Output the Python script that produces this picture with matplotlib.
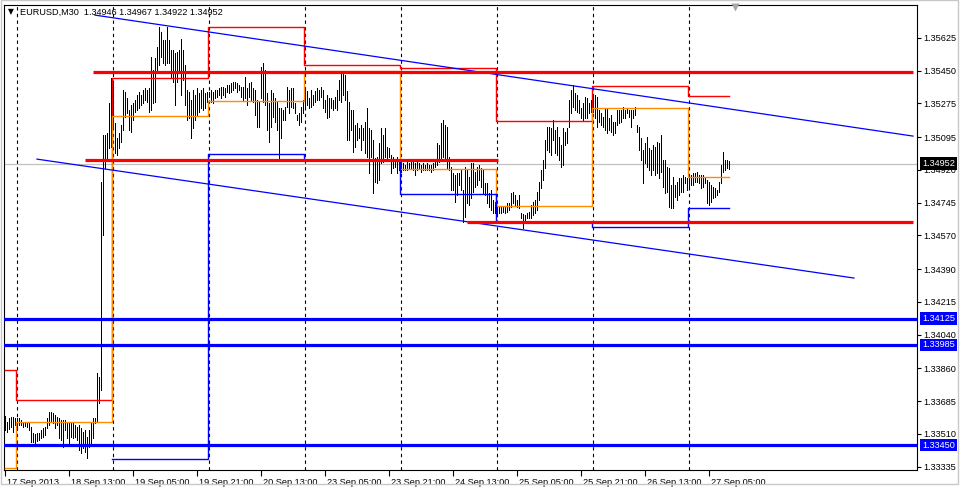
import matplotlib.pyplot as plt
import matplotlib.transforms as mtransforms
from matplotlib.patches import Rectangle
import pandas as pd

plt.rcParams['font.family'] = ['Liberation Sans', 'DejaVu Sans']

# ------------------------------------------------------------------ data
symbol = 'EURUSD,M30'
last_ohlc = ['1.34946', '1.34967', '1.34922', '1.34952']
last_price = 1.34952

# M30 bars, 17 Sep 2013 21:00 .. 27 Sep 2013 10:00 (weekend skipped)
first_bar = '2013-09-17 21:00'
last_bar = '2013-09-27 10:00'

bar_high = [
    1.33605, 1.33575, 1.33593, 1.33598, 1.33602, 1.33593, 1.33593, 1.33593, 1.33584, 1.33575,
    1.33570, 1.33566, 1.33566, 1.33548, 1.33513, 1.33507, 1.33513, 1.33516, 1.33531, 1.33540,
    1.33548, 1.33593, 1.33628, 1.33628, 1.33620, 1.33611, 1.33602, 1.33593, 1.33584, 1.33584,
    1.33584, 1.33575, 1.33575, 1.33566, 1.33566, 1.33557, 1.33548, 1.33557, 1.33540, 1.33522,
    1.33531, 1.33495, 1.33531, 1.33575, 1.33593, 1.33593, 1.33833, 1.33815, 1.34857, 1.35106,
    1.35106, 1.35115, 1.35275, 1.35408, 1.35380, 1.35168, 1.35088, 1.35115, 1.35159, 1.35346,
    1.35337, 1.35301, 1.35239, 1.35266, 1.35275, 1.35293, 1.35319, 1.35337, 1.35319, 1.35346,
    1.35355, 1.35346, 1.35355,
    1.35524, 1.35453, 1.35515, 1.35577, 1.35684, 1.35657, 1.35613, 1.35613, 1.35684, 1.35613,
    1.35559, 1.35559, 1.35542, 1.35550, 1.35559, 1.35621, 1.35559, 1.35479, 1.35346, 1.35337,
    1.35293, 1.35346, 1.35319, 1.35355, 1.35328, 1.35346, 1.35355, 1.35328, 1.35337, 1.35337,
    1.35346, 1.35337, 1.35346, 1.35346, 1.35355, 1.35364, 1.35364, 1.35355, 1.35373, 1.35373,
    1.35381, 1.35390, 1.35390, 1.35381, 1.35373, 1.35364, 1.35364, 1.35417, 1.35355, 1.35381,
    1.35390, 1.35355, 1.35346, 1.35293, 1.35284, 1.35470, 1.35488, 1.35453, 1.35328, 1.35275,
    1.35346, 1.35328, 1.35301, 1.35284, 1.35248, 1.35248, 1.35239, 1.35257, 1.35364, 1.35346,
    1.35355, 1.35355, 1.35275, 1.35212, 1.35221,
    1.35257, 1.35293, 1.35364, 1.35339, 1.35302, 1.35347, 1.35319, 1.35339, 1.35356, 1.35347,
    1.35364, 1.35347, 1.35293, 1.35319, 1.35302, 1.35302, 1.35293, 1.35310, 1.35347, 1.35399,
    1.35444, 1.35435, 1.35426, 1.35339, 1.35284, 1.35239, 1.35239, 1.35159, 1.35168, 1.35141,
    1.35159, 1.35141, 1.35177, 1.35248, 1.35141, 1.35132, 1.35079, 1.34981, 1.34990, 1.35061,
    1.35141, 1.35106, 1.35141, 1.35043, 1.35034, 1.34999, 1.34990, 1.34963, 1.34990, 1.34963,
    1.34954, 1.34954, 1.34946, 1.34963, 1.34954, 1.34963, 1.34972, 1.34954, 1.34963, 1.34954,
    1.34946, 1.34954, 1.34946, 1.34954, 1.34946, 1.34946, 1.34954, 1.34963, 1.35061, 1.35052,
    1.35168, 1.35186, 1.35159, 1.35150, 1.34990, 1.34937, 1.34901, 1.34892, 1.34901, 1.34901,
    1.34919, 1.34812, 1.34937, 1.34919, 1.34883, 1.34954, 1.34954, 1.34910, 1.34937, 1.34946,
    1.34928, 1.34919, 1.34848, 1.34848, 1.34794, 1.34812, 1.34759, 1.34750, 1.34723, 1.34723,
    1.34723, 1.34723, 1.34723, 1.34741, 1.34741, 1.34794, 1.34803, 1.34785, 1.34759, 1.34785,
    1.34687, 1.34684, 1.34679, 1.34687, 1.34696, 1.34732, 1.34750, 1.34759, 1.34803, 1.34857,
    1.34919, 1.34972, 1.35079, 1.35150, 1.35150, 1.35141, 1.35186, 1.35132, 1.35150, 1.35097,
    1.35052, 1.35141, 1.35123, 1.35141, 1.35293, 1.35346, 1.35373, 1.35328, 1.35319, 1.35293,
    1.35248, 1.35275, 1.35310, 1.35301, 1.35275, 1.35293, 1.35319, 1.35319, 1.35310, 1.35239,
    1.35221, 1.35203, 1.35248, 1.35248, 1.35195, 1.35212, 1.35177, 1.35177, 1.35239, 1.35239,
    1.35239, 1.35257, 1.35239, 1.35248, 1.35239, 1.35239, 1.35239, 1.35257, 1.35159, 1.35150,
    1.35088, 1.35026, 1.35061, 1.35097, 1.35034, 1.35026, 1.35052, 1.35043, 1.35070, 1.35061,
    1.35106, 1.34972, 1.34972, 1.34937, 1.34928, 1.34839, 1.34883, 1.34839, 1.34857, 1.34874,
    1.34874, 1.34892, 1.34883, 1.34874, 1.34883, 1.34892, 1.34901, 1.34901, 1.34910, 1.34892,
    1.34892, 1.34892, 1.34883, 1.34865, 1.34857, 1.34839, 1.34830, 1.34821, 1.34812, 1.34857,
    1.34945, 1.35017, 1.34972, 1.34972, 1.34967,
]

bar_low = [
    1.33531, 1.33522, 1.33534, 1.33545, 1.33522, 1.33557, 1.33531, 1.33557, 1.33557, 1.33548,
    1.33552, 1.33545, 1.33531, 1.33468, 1.33468, 1.33463, 1.33474, 1.33477, 1.33486, 1.33495,
    1.33504, 1.33540, 1.33557, 1.33575, 1.33566, 1.33540, 1.33557, 1.33486, 1.33477, 1.33442,
    1.33531, 1.33486, 1.33451, 1.33495, 1.33486, 1.33495, 1.33477, 1.33424, 1.33406, 1.33433,
    1.33415, 1.33380, 1.33442, 1.33451, 1.33486, 1.33566, 1.33575, 1.33673, 1.33744, 1.34572,
    1.34928, 1.34972, 1.35034, 1.35043, 1.35150, 1.35008, 1.34999, 1.35034, 1.35070, 1.35132,
    1.35204, 1.35221, 1.35132, 1.35123, 1.35186, 1.35230, 1.35239, 1.35248, 1.35266, 1.35275,
    1.35293, 1.35284, 1.35230,
    1.35239, 1.35275, 1.35284, 1.35453, 1.35479, 1.35524, 1.35488, 1.35479, 1.35488, 1.35488,
    1.35408, 1.35390, 1.35266, 1.35390, 1.35435, 1.35319, 1.35399, 1.35266, 1.35186, 1.35195,
    1.35088, 1.35141, 1.35186, 1.35212, 1.35230, 1.35248, 1.35239, 1.35248, 1.35284, 1.35310,
    1.35284, 1.35275, 1.35301, 1.35310, 1.35319, 1.35301, 1.35319, 1.35310, 1.35337, 1.35328,
    1.35337, 1.35346, 1.35355, 1.35337, 1.35346, 1.35310, 1.35293, 1.35301, 1.35266, 1.35310,
    1.35293, 1.35284, 1.35212, 1.35150, 1.35150, 1.35301, 1.35284, 1.35266, 1.35132, 1.35070,
    1.35150, 1.35204, 1.35177, 1.35132, 1.34981, 1.35088, 1.35186, 1.35186, 1.35257, 1.35221,
    1.35257, 1.35248, 1.35221, 1.35186, 1.35159,
    1.35177, 1.35221, 1.35257, 1.35266, 1.35248, 1.35257, 1.35266, 1.35284, 1.35293, 1.35293,
    1.35310, 1.35248, 1.35230, 1.35195, 1.35204, 1.35248, 1.35239, 1.35248, 1.35239, 1.35293,
    1.35284, 1.35319, 1.35293, 1.35079, 1.35079, 1.35132, 1.35016, 1.35043, 1.35079, 1.35088,
    1.35025, 1.35079, 1.35008, 1.34990, 1.34901, 1.34990, 1.34794, 1.34857, 1.34848, 1.34865,
    1.34954, 1.34963, 1.34990, 1.34972, 1.34990, 1.34901, 1.34928, 1.34937, 1.34901, 1.34919,
    1.34910, 1.34919, 1.34919, 1.34919, 1.34928, 1.34928, 1.34919, 1.34892, 1.34919, 1.34928,
    1.34910, 1.34919, 1.34919, 1.34919, 1.34919, 1.34910, 1.34919, 1.34937, 1.34946, 1.34963,
    1.34972, 1.34990, 1.34972, 1.34928, 1.34919, 1.34812, 1.34812, 1.34750, 1.34785, 1.34839,
    1.34812, 1.34643, 1.34670, 1.34741, 1.34732, 1.34768, 1.34803, 1.34830, 1.34839, 1.34865,
    1.34830, 1.34794, 1.34785, 1.34741, 1.34723, 1.34705, 1.34687, 1.34687, 1.34687, 1.34687,
    1.34687, 1.34696, 1.34687, 1.34696, 1.34705, 1.34723, 1.34741, 1.34732, 1.34723, 1.34714,
    1.34661, 1.34608, 1.34652, 1.34661, 1.34661, 1.34661, 1.34679, 1.34687, 1.34705, 1.34759,
    1.34821, 1.34865, 1.34928, 1.35026, 1.35017, 1.34999, 1.35079, 1.35008, 1.34999, 1.34972,
    1.34937, 1.34945, 1.35052, 1.35061, 1.35150, 1.35221, 1.35257, 1.35239, 1.35230, 1.35221,
    1.35195, 1.35186, 1.35195, 1.35195, 1.35221, 1.35230, 1.35230, 1.35195, 1.35150, 1.35177,
    1.35159, 1.35150, 1.35132, 1.35115, 1.35132, 1.35123, 1.35106, 1.35115, 1.35159, 1.35168,
    1.35177, 1.35195, 1.35195, 1.35221, 1.35203, 1.35150, 1.35195, 1.35212, 1.35123, 1.35026,
    1.34972, 1.34848, 1.34954, 1.34937, 1.34919, 1.34892, 1.34919, 1.34892, 1.34901, 1.34874,
    1.34910, 1.34830, 1.34794, 1.34803, 1.34723, 1.34714, 1.34714, 1.34776, 1.34759, 1.34785,
    1.34803, 1.34803, 1.34848, 1.34812, 1.34830, 1.34839, 1.34839, 1.34857, 1.34857, 1.34848,
    1.34821, 1.34830, 1.34848, 1.34741, 1.34732, 1.34750, 1.34768, 1.34776, 1.34785, 1.34803,
    1.34848, 1.34910, 1.34919, 1.34928, 1.34922,
]

# previous-day levels drawn per trading day (9 days visible)
day_high = [1.33851, 1.33691, 1.35410, 1.35682, 1.35479, 1.35463, 1.35180, 1.35367, 1.35314]
day_mid = [1.33328, 1.33573, 1.35207, 1.35287, 1.35447, 1.34924, 1.34727, 1.35250, 1.34881]
day_low = [None, None, 1.33376, 1.35004, 1.34972, 1.34791, 1.34641, 1.34615, 1.34716]

# hand-drawn objects, anchors as (bar, price)
red_levels = [((44, 1.35440), (454, 1.35440)),
              ((40, 1.34972), (246.5, 1.34972)),
              ((231, 1.34639), (454, 1.34639))]
blue_levels = [1.34125, 1.33985, 1.33450]
channel_upper = ((45, 1.35746), (454, 1.35100))
channel_lower = ((16, 1.34977), (424.5, 1.34342))

ytick_vals = [1.35625, 1.35450, 1.35275, 1.35095, 1.34920, 1.34745, 1.34570,
              1.34390, 1.34215, 1.34040, 1.33860, 1.33685, 1.33510, 1.33335]
xtick_labels = ['17 Sep 2013', '18 Sep 13:00', '19 Sep 05:00', '19 Sep 21:00',
                '20 Sep 13:00', '23 Sep 05:00', '23 Sep 21:00', '24 Sep 13:00',
                '25 Sep 05:00', '25 Sep 21:00', '26 Sep 13:00', '27 Sep 05:00']

# ------------------------------------------------------------------ timeline
times = pd.date_range(first_bar, last_bar, freq='30min')
times = times[times.weekday < 5]
n = len(times)
day_starts = [0] + [i for i in range(1, n) if times[i].date() != times[i - 1].date()]

RED = '#ff0000'
ORANGE = '#ff8c00'
BLUE = '#0000ff'
FS = 6.6

fig = plt.figure(figsize=(9.62, 4.9), dpi=100)
ax = fig.add_axes([4 / 962, 20 / 490, 913 / 962, 465 / 490])
ax.set_xlim(-0.5, 456)
ax.set_ylim(1.33317, 1.35800)

# day separators
for d in day_starts[1:]:
    ax.axvline(d, color='black', lw=0.8, ls=(0, (3, 3)), zorder=1)

# current price line
ax.axhline(last_price, color='#c0c0c0', lw=0.9, zorder=1.5)

# bars
ax.vlines(range(n), bar_low, bar_high, colors='black', lw=0.72, zorder=3,
          antialiased=False)

# previous-day steps
edges = [0] + [d - 0.5 for d in day_starts[1:]] + [n - 1]
for vals, col in ((day_high, RED), (day_mid, ORANGE), (day_low, BLUE)):
    xs, ys = [], []
    for k, v in enumerate(vals):
        if v is None:
            continue
        xs += [edges[k], edges[k + 1]]
        ys += [v, v]
    ax.plot(xs, ys, color=col, lw=1.0, zorder=4)

# channel
for (x0, y0), (x1, y1) in (channel_upper, channel_lower):
    ax.plot([x0, x1], [y0, y1], color=BLUE, lw=0.9, zorder=4)

# thick levels
for (x0, y0), (x1, y1) in red_levels:
    ax.plot([x0, x1], [y0, y1], color=RED, lw=2.3, zorder=5, solid_capstyle='butt')
for lv in blue_levels:
    ax.axhline(lv, color=BLUE, lw=2.3, zorder=5)

# axes cosmetics
for sp in ax.spines.values():
    sp.set_linewidth(0.8)
    sp.set_color('black')
ax.yaxis.tick_right()
ax.set_yticks(ytick_vals, labels=['%.5f' % v for v in ytick_vals])
ax.set_xticks([32 * k for k in range(len(xtick_labels))], labels=xtick_labels)
ax.tick_params(axis='y', direction='out', length=3, width=0.8, pad=1.5, labelsize=FS)
ax.tick_params(axis='x', direction='out', length=4, width=0.8, pad=1.5, labelsize=FS)
shift = mtransforms.ScaledTranslation(2 / 100, 0, fig.dpi_scale_trans)
for lbl in ax.get_xticklabels():
    lbl.set_ha('left')
    lbl.set_transform(lbl.get_transform() + shift)

# price boxes on the right scale
ytr = ax.get_yaxis_transform()
box_x = 1 + 5 / 913
ax.text(box_x, last_price, '%.5f' % last_price, transform=ytr, ha='left', va='center',
        fontsize=FS, color='white', clip_on=False, zorder=10,
        bbox=dict(boxstyle='square,pad=0.2', fc='black', ec='none'))
for lv in blue_levels:
    ax.text(box_x, lv, '%.5f' % lv, transform=ytr, ha='left', va='center',
            fontsize=FS, color='white', clip_on=False, zorder=10,
            bbox=dict(boxstyle='square,pad=0.2', fc=BLUE, ec='none'))

# header
fig.text(8 / 962, 1 - 12 / 490, '\u25bc', fontsize=5.5, va='center', ha='left',
         family=['DejaVu Sans'])
fig.text(20 / 962, 1 - 12 / 490, symbol + '  ' + ' '.join(last_ohlc),
         fontsize=FS, va='center', ha='left')

# chart shift marker
ax.plot([0.8007], [1 - 2 / 465], marker='v', ms=6, color='#a8a8a8', mec='none',
        transform=ax.transAxes, clip_on=False, zorder=6)

# window border
fig.patches.append(Rectangle((0.5 / 962, 6 / 490), 958 / 962, 483.5 / 490,
                             transform=fig.transFigure, fill=False,
                             ec='#c8c8c8', lw=1))

fig.savefig('out.png', dpi=100)
